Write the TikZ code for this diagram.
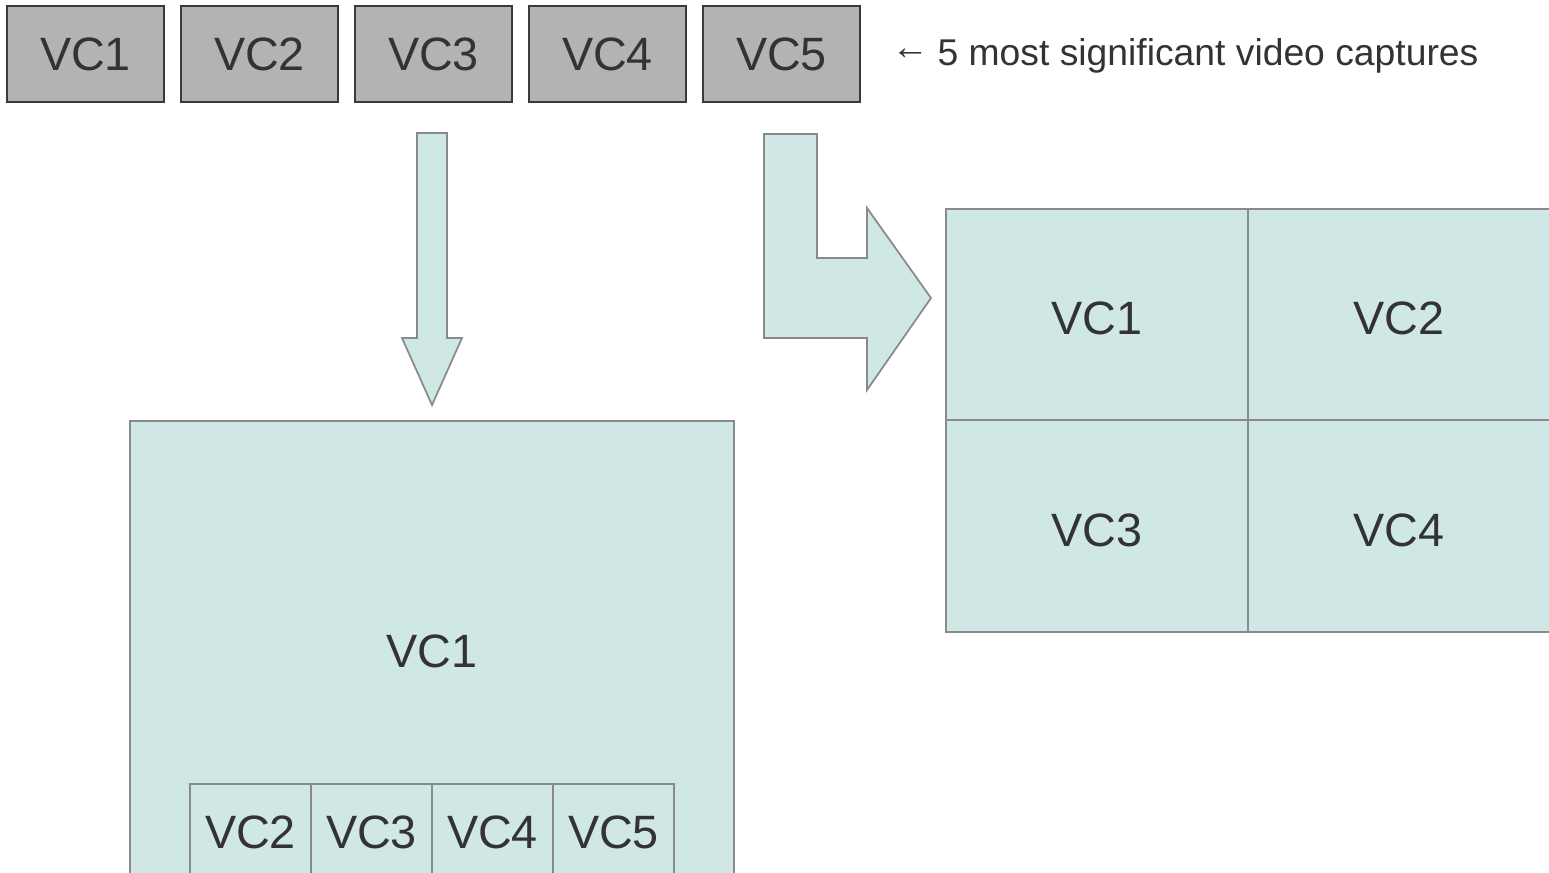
\documentclass[tikz,border=0pt]{standalone}
\usepackage{fontspec}
\setmainfont{Liberation Sans}
\definecolor{capgray}{HTML}{B3B3B3}
\definecolor{capline}{HTML}{3A3A3A}
\definecolor{teal}{HTML}{CFE7E5}
\definecolor{tealline}{HTML}{8A8A8A}
\definecolor{txt}{HTML}{333333}
\begin{document}
\begin{tikzpicture}[x=0.01cm,y=-0.01cm,
  capbox/.style={draw=capline,fill=capgray,line width=0.6pt,minimum width=1.57cm,minimum height=0.96cm,inner sep=0pt,text=txt,font=\fontsize{13.3}{15}\selectfont},
  tealbox/.style={draw=tealline,fill=teal,line width=0.5pt,inner sep=0pt,text=txt,font=\fontsize{13.3}{15}\selectfont},
  gridcell/.style={tealbox,minimum width=3.02cm,text height=0.40cm,text depth=0pt},
  shapearrow/.style={draw=tealline,fill=teal,line width=0.5pt,line join=miter}]
\useasboundingbox (0,0) rectangle (1549,872);
% top capture boxes
\foreach \i/\x in {1/85.5,2/259.5,3/433.5,4/607.5,5/781.5}
  \node[capbox] (cap\i) at (\x,54) {VC\i};
\node[anchor=base west,text=txt,font=\fontsize{10.6}{12}\selectfont,inner sep=0pt] (caption) at (891,65) {\raisebox{1.5pt}{←}\hspace{-0.5pt} 5 most significant video captures};
% down arrow
\draw[shapearrow] (417,133) -- (447,133) -- (447,338) -- (462,338) -- (432,405) -- (402,338) -- (417,338) -- cycle;
% bent arrow
\draw[shapearrow] (764,134) -- (817,134) -- (817,258) -- (867,258) -- (867,208) -- (931,298) -- (867,390) -- (867,338) -- (764,338) -- cycle;
% right grid
\node[gridcell,minimum height=2.11cm] (g1) at (1097,314.5) {VC1};
\node[gridcell,minimum height=2.11cm] (g2) at (1399,314.5) {VC2};
\node[gridcell,minimum height=2.12cm] (g3) at (1097,526) {VC3};
\node[gridcell,minimum height=2.12cm] (g4) at (1399,526) {VC4};
% bottom layout
\fill[teal] (130,421) rectangle (734,880);
\draw[tealline,line width=0.5pt] (130,880) -- (130,421) -- (734,421) -- (734,880);
\node[text=txt,font=\fontsize{13.3}{15}\selectfont,inner sep=0pt] (big) at (432,651) {VC1};
\foreach \i/\x in {2/250.5,3/371.5,4/492.5,5/613.5}
  \node[tealbox,minimum width=1.21cm,minimum height=0.96cm] (s\i) at (\x,832) {VC\i};
\end{tikzpicture}
\end{document}
